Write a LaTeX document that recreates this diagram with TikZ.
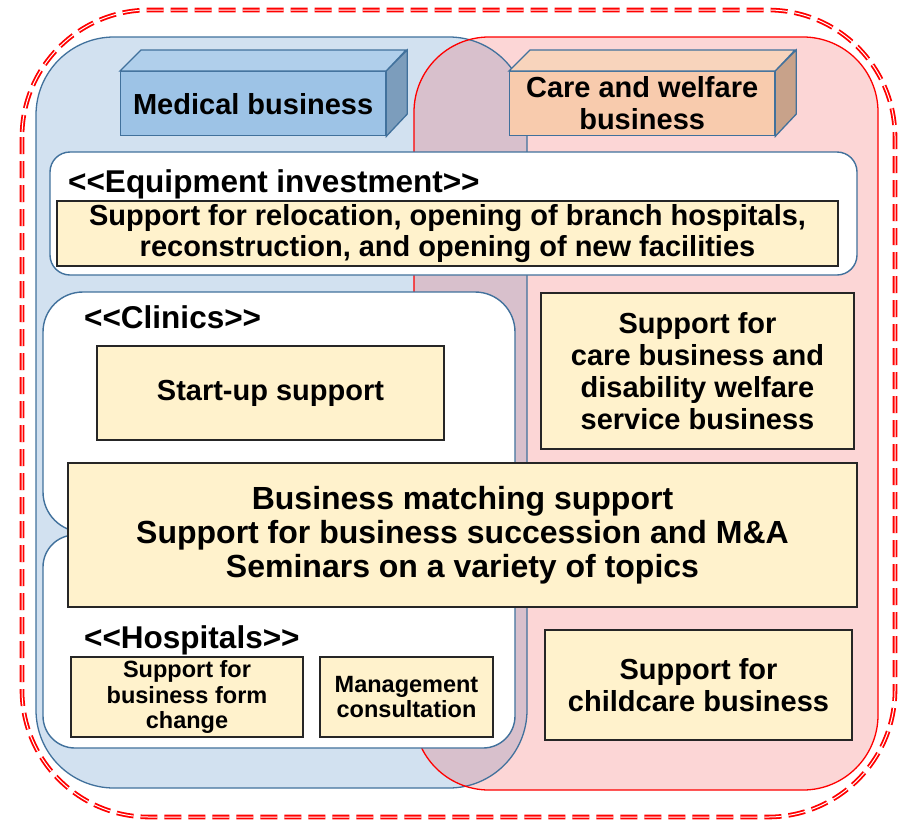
\documentclass[tikz,border=0pt]{standalone}
\usepackage{fontspec}
\setmainfont{Liberation Sans}
\definecolor{medarea}{RGB}{210,225,240}
\definecolor{carearea}{RGB}{252,214,214}
\definecolor{bothareas}{RGB}{216,192,204}
\definecolor{steel}{RGB}{65,113,156}
\definecolor{frontblue}{RGB}{157,195,230}
\definecolor{topblue}{RGB}{176,207,235}
\definecolor{sideblue}{RGB}{124,157,188}
\definecolor{frontpeach}{RGB}{248,203,173}
\definecolor{toppeach}{RGB}{248,212,188}
\definecolor{sidepeach}{RGB}{200,162,138}
\definecolor{cream}{RGB}{255,242,204}
\newcommand\dlt{<\kern0pt<}
\newcommand\dgt{>\kern0pt>}
\begin{document}
\begin{tikzpicture}[x=1pt,y=-1pt,
  frame/.style={draw=red, line width=1.8pt, double=white, double distance=1.0pt,
    dash pattern=on 17pt off 7pt, rounded corners=127},
  medline/.style={draw=steel, line width=1.3pt},
  careline/.style={draw=red, line width=1.3pt},
  group/.style={draw=steel, line width=1.4pt, fill=white},
  ybox/.style={draw=black!85, line width=1.6pt, fill=cream, inner sep=0pt,
    align=center, font=\fontsize{29}{32}\bfseries\selectfont},
  smallbox/.style={ybox, font=\fontsize{23.5}{25.5}\bfseries\selectfont},
  grouptitle/.style={anchor=base west, inner sep=0pt,
    font=\fontsize{31.5}{34}\bfseries\selectfont},
  headface/.style={draw=steel, line width=1.3pt},
  header/.style={headface, inner sep=0pt, anchor=north west,
    minimum width=265, minimum height=64},
  headtext/.style={inner sep=0pt, align=center,
    font=\fontsize{29}{32}\bfseries\selectfont}
]
\useasboundingbox (0,0) rectangle (899,820);

% outer dashed frame
\draw[frame] (22,10) rectangle (895,817);

% the two business areas and their overlap
\fill[carearea, rounded corners=75] (414,37) rectangle (878,790);
\fill[medarea, rounded corners=78] (36,37) rectangle (527,788);
\begin{scope}
  \clip[rounded corners=78] (36,37) rectangle (527,788);
  \fill[bothareas, rounded corners=75] (414,37) rectangle (878,790);
\end{scope}
\draw[medline, rounded corners=78] (36,37) rectangle (527,788);
\draw[careline, rounded corners=75] (414,37) rectangle (878,790);

% 3D header blocks
\node[header, fill=frontblue] (medical) at (120,71) {};
\filldraw[headface, fill=topblue] (medical.north west) -- ++(21,-21) -- ++(265,0)
  -- (medical.north east) -- cycle;
\filldraw[headface, fill=sideblue] (medical.north east) -- ++(21,-21) -- ++(0,64)
  -- (medical.south east) -- cycle;
\node[headtext] (medicaltext) at (medical.center) {Medical business};

\node[header, fill=frontpeach] (care) at (509,71) {};
\filldraw[headface, fill=toppeach] (care.north west) -- ++(21,-21) -- ++(265,0)
  -- (care.north east) -- cycle;
\filldraw[headface, fill=sidepeach] (care.north east) -- ++(21,-21) -- ++(0,64)
  -- (care.south east) -- cycle;
\node[headtext] (caretext) at ([yshift=1pt]care.center) {Care and welfare\\business};

% white group containers
\draw[group, rounded corners=20] (50,152) rectangle (857,275);
\draw[group, rounded corners=40] (43,292) rectangle (515,532);
\draw[group, rounded corners=32] (43,535) rectangle (515,748);

% group titles
\node[grouptitle] (eqtitle) at (68,192) {\dlt Equipment investment\dgt};
\node[grouptitle] (clintitle) at (84,328) {\dlt Clinics\dgt};
\node[grouptitle] (hosptitle) at (84,648) {\dlt Hospitals\dgt};

% support items
\node[ybox, minimum width=781, minimum height=65,
  font=\fontsize{29}{31}\bfseries\selectfont] (equip) at (447.5,233.5)
  {Support for relocation, opening of branch hospitals,\\reconstruction, and opening of new facilities};
\node[ybox, minimum width=347, minimum height=94] (startup) at (270.5,393)
  {Start-up support};
\node[ybox, minimum width=313, minimum height=156] (carebiz) at (697.5,371)
  {Support for\\care business and\\disability welfare\\service business};
\node[ybox, minimum width=789, minimum height=144,
  font=\fontsize{32}{34}\bfseries\selectfont] (matching) at (462.5,535)
  {Business matching support\\Support for business succession and M\&A\\Seminars on a variety of topics};
\node[smallbox, minimum width=232, minimum height=80] (formchange) at (187,697)
  {Support for\\business form\\change};
\node[smallbox, minimum width=173, minimum height=80] (consult) at (406.5,697)
  {Management\\consultation};
\node[ybox, minimum width=307, minimum height=110] (childcare) at (698.5,685)
  {Support for\\childcare business};
\end{tikzpicture}
\end{document}
